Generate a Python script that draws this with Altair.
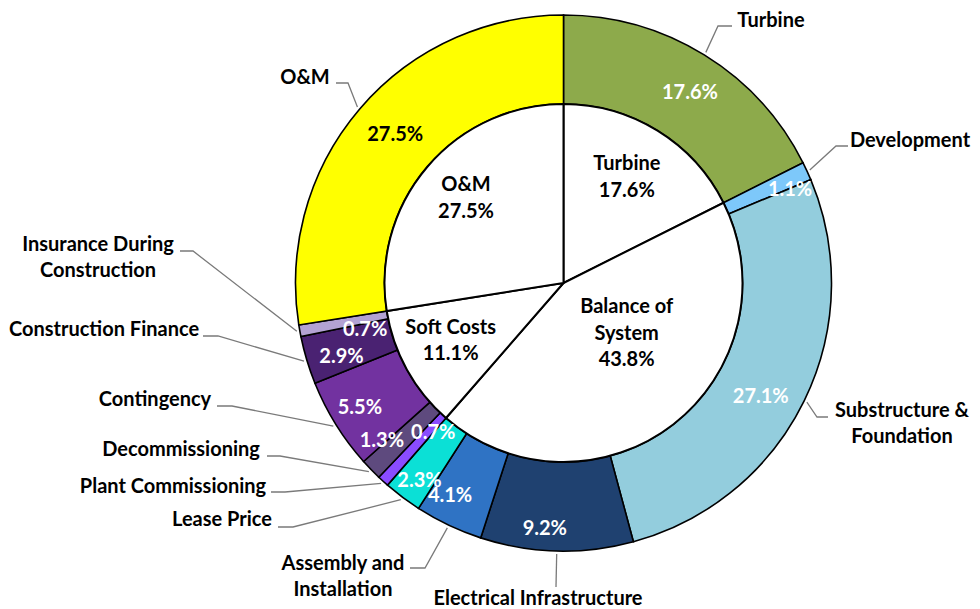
import math
import altair as alt
import pandas as pd

# ---------------- data ----------------
outer_names = ["Turbine", "Development", "Substructure & Foundation", "Electrical Infrastructure",
               "Assembly and Installation", "Lease Price", "Plant Commissioning", "Decommissioning",
               "Contingency", "Construction Finance", "Insurance During Construction", "O&M"]
outer_values = [17.6, 1.1, 27.1, 9.2, 4.1, 2.3, 0.7, 1.3, 5.5, 2.9, 0.7, 27.5]
outer_label_text = ["Turbine", "Development", "Substructure &\nFoundation", "Electrical Infrastructure",
                    "Assembly and\nInstallation", "Lease Price", "Plant Commissioning", "Decommissioning",
                    "Contingency", "Construction Finance", "Insurance During\nConstruction", "O&M"]
outer_colors = ["#8DAA4B", "#7DC8FA", "#93CDDD", "#1F4170", "#2F73C4", "#0BE0D6", "#8A4CFF",
                "#5E4A7E", "#7232A0", "#4A2272", "#B3A2D3", "#FFFF00"]

inner_names = ["Turbine", "Balance of System", "Soft Costs", "O&M"]
inner_values = [17.6, 43.8, 11.1, 27.5]
inner_label_text = ["Turbine", "Balance of\nSystem", "Soft Costs", "O&M"]

# ---------------- layout (page pixels) ----------------
OFF = 8
W, H = 964, 601
CX, CY = 563.5, 283.0
R_IN, R_OUT, R_ANCHOR = 179, 268, 271
FONT = "Lato"
FS = 20
LH = 26.5

# percentage labels inside the ring: (radius, angle shift in degrees)
outer_pct_pos = [(228, 2.0), (245, 2.3), (228, 4.0), (247, 2.9), (241, 2.7), (245, -0.9),
                 (199, -1.4), (241, 3.0), (239, 0.3), (234, -1.7), (204, -3.2), (224, 0.8)]
outer_pct_color = ["white"] * 11 + ["black"]
inner_pos = [(123, -0.7), (81, -13.4), (127, 1.7), (129, 0.4)]

# category labels: label centre, elbow and tail of the leader line
label_layout = {
    "Turbine": ((771, 21), (718, 26), (732, 26)),
    "Development": ((910, 141), (836, 146), (848, 146)),
    "Substructure & Foundation": ((902, 424), (817, 417), (828, 417)),
    "Electrical Infrastructure": ((538, 599), (556, 587), (556, 587)),
    "Assembly and Installation": ((343, 577), (425, 568), (410, 568)),
    "Lease Price": ((222, 520), (293, 527), (278, 527)),
    "Plant Commissioning": ((173, 487), (285, 492), (271, 492)),
    "Decommissioning": ((181, 450), (280, 456), (267, 456)),
    "Contingency": ((155, 400), (232, 406), (217, 406)),
    "Construction Finance": ((104, 330), (218, 336), (203, 336)),
    "Insurance During Construction": ((98, 258), (193, 251), (180, 251)),
    "O&M": ((305, 78), (348, 83), (336, 83)),
}


def mid_angles(values):
    total = sum(values)
    out, acc = [], 0.0
    for v in values:
        out.append((acc + v / 2) / total * 360.0)
        acc += v
    return out


def polar(r, deg):
    a = math.radians(deg)
    return CX + r * math.sin(a) - OFF, CY - r * math.cos(a) - OFF


def first_line_y(y, txt):
    # Vega anchors the first line of a multi-line text; centre the whole block instead
    n = txt.count("\n") + 1
    return y - (n - 1) * LH / 2


outer_df = pd.DataFrame({"name": outer_names, "value": outer_values, "idx": range(len(outer_names))})
inner_df = pd.DataFrame({"name": inner_names, "value": inner_values, "idx": range(len(inner_names))})

om = mid_angles(outer_values)
im = mid_angles(inner_values)

pct_rows = []
for i, (n, v) in enumerate(zip(outer_names, outer_values)):
    r, d = outer_pct_pos[i]
    x, y = polar(r, om[i] + d)
    pct_rows.append({"name": n, "txt": f"{v:.1f}%", "px": x, "py": y, "col": outer_pct_color[i]})
pct_df = pd.DataFrame(pct_rows)

in_rows = []
for i, (n, v) in enumerate(zip(inner_names, inner_values)):
    r, d = inner_pos[i]
    x, y = polar(r, im[i] + d)
    txt = f"{inner_label_text[i]}\n{v:.1f}%"
    in_rows.append({"name": n, "txt": txt, "px": x, "py": first_line_y(y, txt)})
in_df = pd.DataFrame(in_rows)

lab_rows, line_rows = [], []
for i, n in enumerate(outer_names):
    (lx, ly), (ex, ey), (tx, ty) = label_layout[n]
    txt = outer_label_text[i]
    lab_rows.append({"name": n, "txt": txt, "px": lx - OFF, "py": first_line_y(ly - OFF, txt)})
    ax, ay = polar(R_ANCHOR, om[i])
    for k, (px, py) in enumerate([(ax, ay), (ex - OFF, ey - OFF), (tx - OFF, ty - OFF)]):
        line_rows.append({"name": n, "k": k, "px": px, "py": py})
lab_df = pd.DataFrame(lab_rows)
line_df = pd.DataFrame(line_rows)

cx_v = alt.value(CX - OFF)
cy_v = alt.value(CY - OFF)

ring = alt.Chart(outer_df).mark_arc(innerRadius=R_IN, outerRadius=R_OUT, stroke="black",
                                    strokeWidth=1.6).encode(
    theta=alt.Theta("value:Q", stack=True, scale=alt.Scale(domain=[0, 100])),
    order=alt.Order("idx:Q"),
    color=alt.Color("name:N", scale=alt.Scale(domain=outer_names, range=outer_colors), legend=None),
    x=cx_v, y=cy_v,
)

pie = alt.Chart(inner_df).mark_arc(outerRadius=R_IN, fill="white", stroke="black",
                                   strokeWidth=2).encode(
    theta=alt.Theta("value:Q", stack=True, scale=alt.Scale(domain=[0, 100])),
    order=alt.Order("idx:Q"),
    x=cx_v, y=cy_v,
)

xs = alt.X("px:Q", scale=None, axis=None)
ys = alt.Y("py:Q", scale=None, axis=None)

leaders = alt.Chart(line_df).mark_line(color="#7A7A7A", strokeWidth=1.3).encode(
    x=xs, y=ys, detail="name:N", order=alt.Order("k:Q"))

pct_text = alt.Chart(pct_df).mark_text(font=FONT, fontSize=FS, fontWeight="bold",
                                       baseline="middle", align="center").encode(
    x=xs, y=ys, text="txt:N", color=alt.Color("col:N", scale=None))

inner_text = alt.Chart(in_df).mark_text(font=FONT, fontSize=FS, fontWeight="bold", color="black",
                                        baseline="middle", align="center", lineBreak="\n",
                                        lineHeight=LH).encode(
    x=xs, y=ys, text="txt:N")

cat_text = alt.Chart(lab_df).mark_text(font=FONT, fontSize=FS, fontWeight="bold", color="black",
                                       baseline="middle", align="center", lineBreak="\n",
                                       lineHeight=LH).encode(
    x=xs, y=ys, text="txt:N")

chart = alt.layer(ring, pie, leaders, pct_text, inner_text, cat_text).properties(
    width=W, height=H, autosize=alt.AutoSizeParams(type="none"), padding=0,
    background="white",
).configure_view(stroke=None)

chart.save("out.html", embed_options={"renderer": "svg", "actions": False})
